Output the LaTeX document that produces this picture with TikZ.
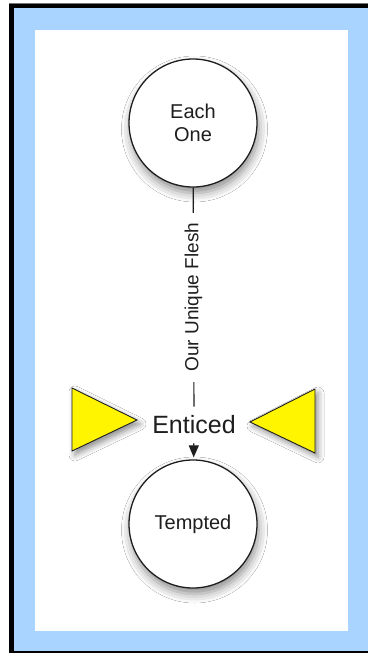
\documentclass[tikz,border=0pt]{standalone}
\usepackage{fontspec}
\setmainfont{Liberation Sans}
\usetikzlibrary{arrows.meta,shadows.blur}
\definecolor{frameblue}{RGB}{168,212,255}
\definecolor{ink}{RGB}{30,30,30}
\definecolor{warnyellow}{RGB}{255,245,0}
\begin{document}
\begin{tikzpicture}[x=1pt,y=-1pt,
  statenode/.style={circle,draw=ink,line width=1.3pt,fill=white,minimum size=128pt,inner sep=0pt,
    font=\fontsize{20}{23}\selectfont,align=center,text=ink,
    blur shadow={shadow xshift=1.5pt,shadow yshift=-6pt,shadow blur radius=9pt,shadow opacity=45}},
  midnode/.style={font=\fontsize{25}{28}\selectfont,text=ink,inner xsep=4pt,inner ysep=9pt},
  edgelabel/.style={fill=white,rotate=90,font=\fontsize{19}{21}\selectfont,text=ink,inner xsep=10pt,inner ysep=2pt},
  pointer/.style={fill=warnyellow,draw=ink,line width=0.9pt,line join=miter,
    blur shadow={shadow xshift=3pt,shadow yshift=-4pt,shadow blur radius=6pt,shadow opacity=45}},
  conn/.style={draw=ink,line width=1.2pt}
]
\useasboundingbox (0,0) rectangle (368,653);
% frame
\fill[black] (9,3.5) rectangle (368,653);
\fill[black!55] (9,3) rectangle (368,4);
\fill[frameblue] (14,8.3) rectangle (368,651);
\fill[white] (35,30) rectangle (348.3,631);
% nodes
\node[statenode] (each) at (193,123) {Each\\One};
\node[statenode] (tempt) at (193,524) {Tempted};
\node[midnode] (ent) at (194,425) {Enticed};
% connectors
\draw[conn] (each) -- node[edgelabel,pos=0.5] {Our Unique Flesh} (ent);
\draw[conn,-{Triangle[length=12pt,width=10pt]},shorten >=2pt] (ent) -- (tempt);
% yellow pointers
\path[pointer] (72,388) -- (137,420) -- (72,451) -- cycle;
\path[pointer] (315,389) -- (250,422) -- (315,453) -- cycle;
\end{tikzpicture}
\end{document}
